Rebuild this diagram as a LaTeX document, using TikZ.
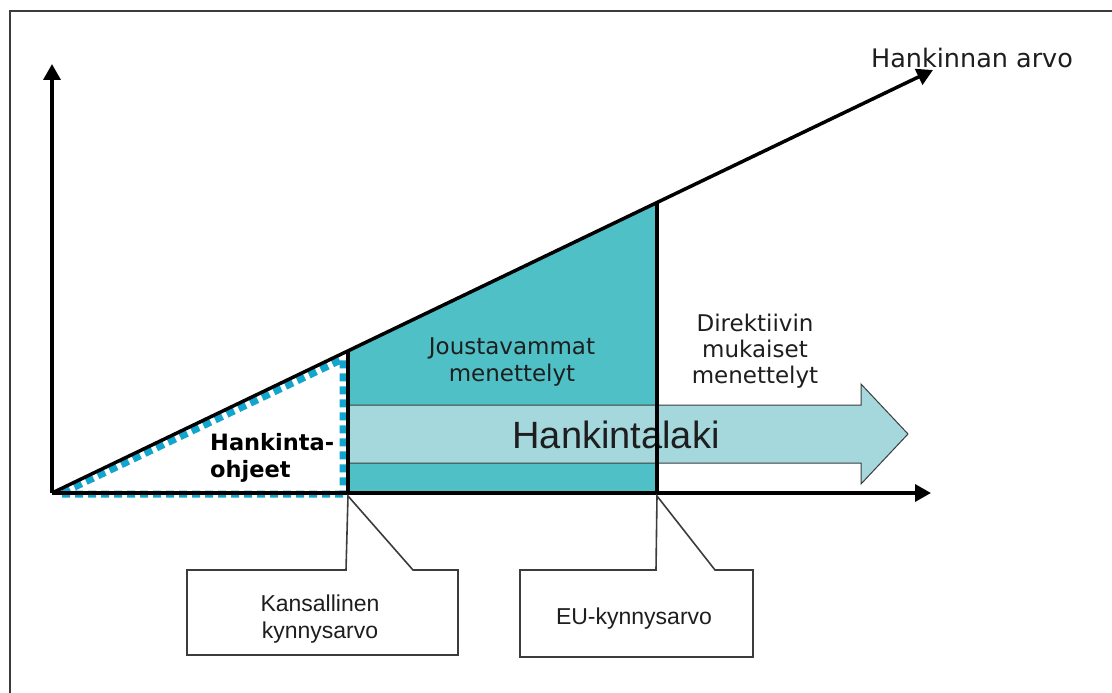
\documentclass[tikz,border=0pt]{standalone}
\usepackage{fontspec}
\setmainfont{Liberation Sans}
\newfontfamily\verd{DejaVu Sans}
\usetikzlibrary{arrows.meta}
\definecolor{tealfill}{RGB}{80,192,199}
\definecolor{lightteal}{RGB}{164,216,221}
\definecolor{dashcyan}{RGB}{18,166,206}
\definecolor{framegray}{RGB}{60,60,60}
\definecolor{textdark}{RGB}{30,30,30}
\begin{document}
\begin{tikzpicture}[x=1pt,y=-1pt,
  axisline/.style={line width=3.5pt,-{Triangle[length=16pt,width=17pt]}},
  blackline/.style={line width=3.5pt},
  calloutbox/.style={draw=framegray,line width=1.6pt,fill=white,line join=miter},
  verdtext/.style={font=\verd\fontsize{23}{27}\selectfont,text=textdark,inner sep=0pt,anchor=base},
  ariatext/.style={font=\fontsize{23}{27}\selectfont,text=textdark,inner sep=0pt,anchor=base},
  boldtext/.style={font=\verd\bfseries\fontsize{22.5}{27}\selectfont,text=black,inner sep=0pt,anchor=base west}]
\useasboundingbox (0,0) rectangle (1112,693);
\fill[white] (0,0) rectangle (1112,693);
% frame (cropped: top and left edges)
\draw[framegray,line width=1.6pt] (1112,11) -- (10,11) -- (10,693);

% key points
\coordinate (O) at (52,493);
\coordinate (Ytip) at (52,64);
\coordinate (Xtip) at (931,493);
\coordinate (Dtip) at (933,70);
\coordinate (K) at (348,351);
\coordinate (Kb) at (348,493);
\coordinate (E) at (657,202);
\coordinate (Eb) at (657,493);

% teal area
\fill[tealfill] (K) -- (E) -- (Eb) -- (Kb) -- cycle;

% dashed triangle
\draw[dashcyan,line width=7pt,dash pattern=on 8pt off 5pt] (343,494) -- (60,494) -- (343,359) -- cycle;

% big arrow
\draw[fill=lightteal,draw=framegray,line width=1pt,line join=miter]
  (348,405) -- (861,405) -- (861,384) -- (908,434) -- (861,484) -- (861,463) -- (348,463);
\node[font=\fontsize{38}{44}\selectfont,text=textdark,inner sep=0pt,anchor=base] (law) at (616,448) {Hankintalaki};

% vertical threshold lines
\draw[blackline] (K) -- (Kb);
\draw[blackline] (E) -- (Eb);

% axes
\draw[axisline] (O) -- (Ytip);
\draw[axisline] (O) -- (Xtip);
\draw[axisline] (O) -- (Dtip);

% labels
\node[verdtext,font=\verd\fontsize{25.5}{29}\selectfont] (val) at (972,67) {Hankinnan arvo};
\node[verdtext] (j1) at (512,354) {Joustavammat};
\node[verdtext] (j2) at (512,381) {menettelyt};
\node[verdtext] (d1) at (755,331) {Direktiivin};
\node[verdtext] (d2) at (755,357) {mukaiset};
\node[verdtext] (d3) at (755,383) {menettelyt};
\node[boldtext] (h1) at (210,450) {Hankinta-};
\node[boldtext] (h2) at (210,477) {ohjeet};

% callouts
\coordinate (p1) at (348,496);
\coordinate (p2) at (657,496);
\draw[calloutbox] (187,570) -- (346,570) -- (p1) -- (413,570) -- (458,570) -- (458,655) -- (187,655) -- cycle;
\draw[calloutbox] (520,570) -- (656,570) -- (p2) -- (715,570) -- (753,570) -- (753,657) -- (520,657) -- cycle;
\node[ariatext] (c1a) at (320,611) {Kansallinen};
\node[ariatext] (c1b) at (320,638) {kynnysarvo};
\node[ariatext] (c2) at (634,624) {EU-kynnysarvo};
\end{tikzpicture}
\end{document}
